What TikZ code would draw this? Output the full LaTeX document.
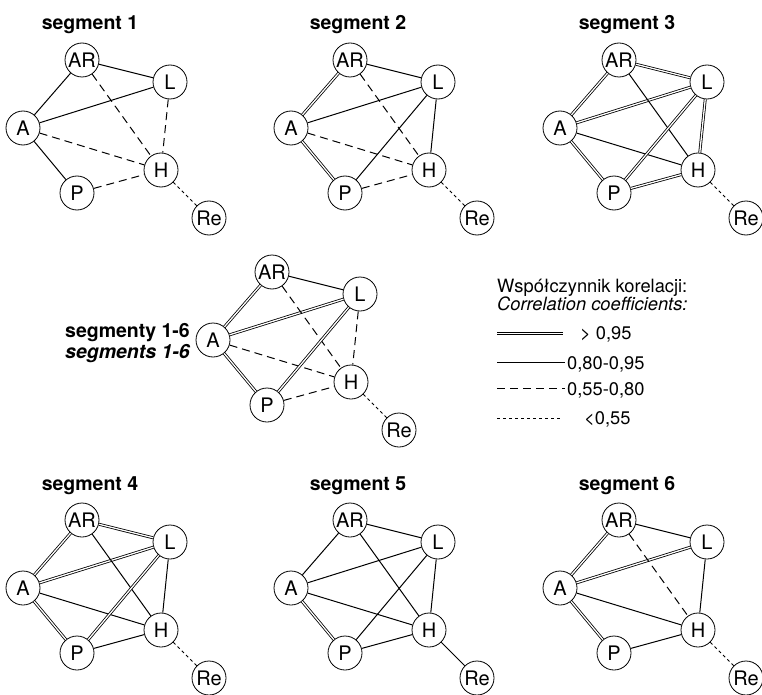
\documentclass[tikz,border=0pt]{standalone}
\usepackage{fontspec}
\setmainfont{TeX Gyre Heros}

% nodes of one graph: prefix, x shift, y shift
\newcommand{\segnodes}[3]{%
  \node[vert] (#1AR) at (#2+82,#3+60) {AR};
  \node[vert] (#1L) at (#2+170,#3+82) {L};
  \node[vert] (#1A) at (#2+23,#3+128) {A};
  \node[vert] (#1H) at (#2+161,#3+170) {H};
  \node[vert] (#1P) at (#2+77,#3+193) {P};
  \node[vert] (#1Re) at (#2+209,#3+218) {Re};
}

\begin{document}
\begin{tikzpicture}[x=1pt,y=-1pt,
  vert/.style={circle,draw,line width=0.8pt,fill=white,minimum size=34pt,inner sep=0pt,font=\fontsize{20}{22}\selectfont},
  ttl/.style={anchor=base,font=\bfseries\fontsize{19.5}{22}\selectfont},
  legtxt/.style={anchor=base west,inner sep=0pt,font=\fontsize{18.3}{20}\selectfont},
  c95/.style={double,double distance=1.3pt,line width=0.8pt},
  c80/.style={line width=1pt},
  c55/.style={line width=1pt,dash pattern=on 8pt off 5pt},
  c00/.style={line width=1pt,dash pattern=on 3pt off 3pt}]

  \useasboundingbox (0,0) rectangle (762,695);

  % titles
  \node[ttl] (t1) at (90,30) {segment 1};
  \node[ttl] (t2) at (358,30) {segment 2};
  \node[ttl] (t3) at (627,30) {segment 3};
  \node[ttl] (t4) at (90,490) {segment 4};
  \node[ttl] (t5) at (358,490) {segment 5};
  \node[ttl] (t6) at (627,490) {segment 6};
  \node[ttl,anchor=base east,inner sep=0pt] (tm1) at (190,337) {segmenty 1-6};
  \node[ttl,anchor=base east,inner sep=0pt] (tm2) at (190,358) {\itshape segments 1-6};

  % segment 1
  \segnodes{a}{0}{0}
  \draw[c80] (aA) -- (aAR);
  \draw[c80] (aAR) -- (aL);
  \draw[c80] (aA) -- (aL);
  \draw[c80] (aA) -- (aP);
  \draw[c55] (aAR) -- (aH);
  \draw[c55] (aL) -- (aH);
  \draw[c55] (aA) -- (aH);
  \draw[c55] (aP) -- (aH);
  \draw[c00] (aH) -- (aRe);

  % segment 2
  \segnodes{b}{268}{0}
  \draw[c95] (bA) -- (bAR);
  \draw[c80] (bAR) -- (bL);
  \draw[c80] (bA) -- (bL);
  \draw[c95] (bA) -- (bP);
  \draw[c55] (bAR) -- (bH);
  \draw[c80] (bL) -- (bH);
  \draw[c55] (bA) -- (bH);
  \draw[c80] (bP) -- (bL);
  \draw[c55] (bP) -- (bH);
  \draw[c00] (bH) -- (bRe);

  % segment 3
  \segnodes{c}{537}{0}
  \draw[c95] (cA) -- (cAR);
  \draw[c95] (cAR) -- (cL);
  \draw[c95] (cA) -- (cL);
  \draw[c95] (cA) -- (cP);
  \draw[c80] (cAR) -- (cH);
  \draw[c95] (cL) -- (cH);
  \draw[c80] (cA) -- (cH);
  \draw[c95] (cP) -- (cL);
  \draw[c95] (cP) -- (cH);
  \draw[c00] (cH) -- (cRe);

  % segments 1-6
  \segnodes{m}{190}{212}
  \draw[c95] (mA) -- (mAR);
  \draw[c80] (mAR) -- (mL);
  \draw[c95] (mA) -- (mL);
  \draw[c95] (mA) -- (mP);
  \draw[c55] (mAR) -- (mH);
  \draw[c55] (mL) -- (mH);
  \draw[c55] (mA) -- (mH);
  \draw[c95] (mP) -- (mL);
  \draw[c55] (mP) -- (mH);
  \draw[c00] (mH) -- (mRe);

  % segment 4
  \segnodes{d}{0}{460}
  \draw[c95] (dA) -- (dAR);
  \draw[c95] (dAR) -- (dL);
  \draw[c95] (dA) -- (dL);
  \draw[c95] (dA) -- (dP);
  \draw[c80] (dAR) -- (dH);
  \draw[c80] (dL) -- (dH);
  \draw[c80] (dA) -- (dH);
  \draw[c95] (dP) -- (dL);
  \draw[c80] (dP) -- (dH);
  \draw[c00] (dH) -- (dRe);

  % segment 5
  \segnodes{e}{268}{460}
  \draw[c80] (eA) -- (eAR);
  \draw[c80] (eAR) -- (eL);
  \draw[c80] (eA) -- (eL);
  \draw[c95] (eA) -- (eP);
  \draw[c80] (eAR) -- (eH);
  \draw[c80] (eL) -- (eH);
  \draw[c80] (eA) -- (eH);
  \draw[c80] (eP) -- (eL);
  \draw[c80] (eP) -- (eH);
  \draw[c80] (eH) -- (eRe);

  % segment 6
  \segnodes{f}{537}{460}
  \draw[c95] (fA) -- (fAR);
  \draw[c80] (fAR) -- (fL);
  \draw[c95] (fA) -- (fL);
  \draw[c95] (fA) -- (fP);
  \draw[c55] (fAR) -- (fH);
  \draw[c80] (fL) -- (fH);
  \draw[c80] (fA) -- (fH);
  \draw[c80] (fP) -- (fH);
  \draw[c00] (fH) -- (fRe);

  % legend
  \node[legtxt] (leg1) at (497,292) {Współczynnik korelacji:};
  \node[legtxt] (leg2) at (497,310) {\itshape Correlation coefficients:};
  \coordinate (k1a) at (497,333.5);
  \coordinate (k1b) at (563,333.5);
  \coordinate (k2a) at (497,362.5);
  \coordinate (k2b) at (565,362.5);
  \coordinate (k3a) at (497,388.5);
  \coordinate (k3b) at (565,388.5);
  \coordinate (k4a) at (497,418.5);
  \coordinate (k4b) at (562,418.5);
  \draw[c95] (k1a) -- (k1b);
  \draw[c80] (k2a) -- (k2b);
  \draw[c55] (k3a) -- (k3b);
  \draw[c00] (k4a) -- (k4b);
  \node[legtxt] (v1) at (580,339) {> 0,95};
  \node[legtxt] (v2) at (567,369) {0,80-0,95};
  \node[legtxt] (v3) at (567,395) {0,55-0,80};
  \node[legtxt] (v4) at (584,424) {<0,55};
\end{tikzpicture}
\end{document}
